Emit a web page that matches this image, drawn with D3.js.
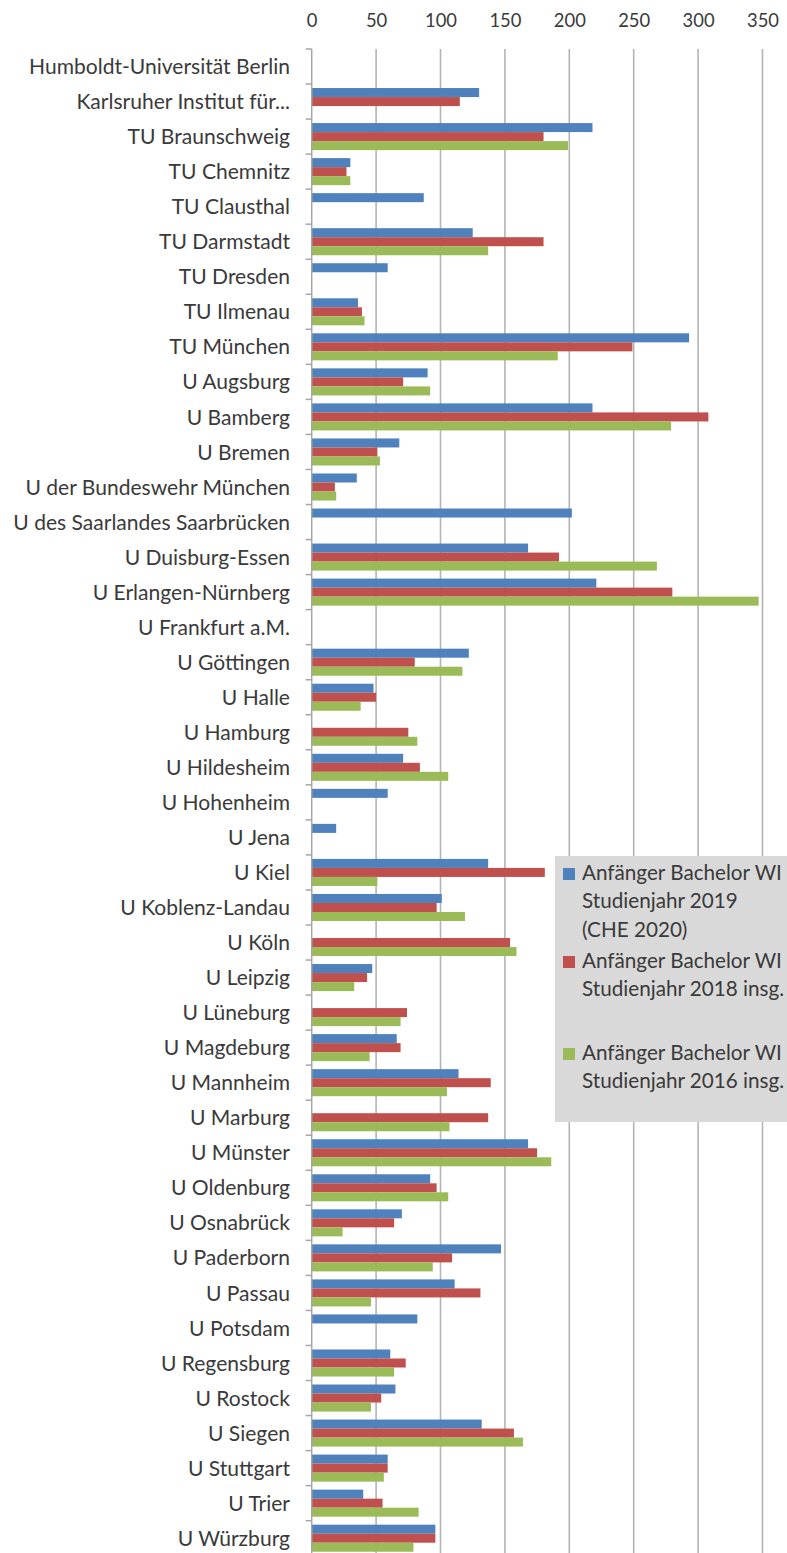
<!DOCTYPE html>
<html>
<head>
<meta charset="utf-8">
<script src="https://cdn.jsdelivr.net/npm/d3@7"></script>
<style>
  html, body { margin: 0; padding: 0; background: #fff; }
  svg { display: block; }
</style>
</head>
<body>
<svg id="chart" width="787" height="1553"></svg>
<script>
const categories = [
  "Humboldt-Universität Berlin", "Karlsruher Institut für...", "TU Braunschweig", "TU Chemnitz",
  "TU Clausthal", "TU Darmstadt", "TU Dresden", "TU Ilmenau", "TU München", "U Augsburg",
  "U Bamberg", "U Bremen", "U der Bundeswehr München", "U des Saarlandes Saarbrücken",
  "U Duisburg-Essen", "U Erlangen-Nürnberg", "U Frankfurt a.M.", "U Göttingen", "U Halle",
  "U Hamburg", "U Hildesheim", "U Hohenheim", "U Jena", "U Kiel", "U Koblenz-Landau", "U Köln",
  "U Leipzig", "U Lüneburg", "U Magdeburg", "U Mannheim", "U Marburg", "U Münster",
  "U Oldenburg", "U Osnabrück", "U Paderborn", "U Passau", "U Potsdam", "U Regensburg",
  "U Rostock", "U Siegen", "U Stuttgart", "U Trier", "U Würzburg"
];
const series2019 = [null, 130, 218, 30, 87, 125, 59, 36, 293, 90, 218, 68, 35, 202, 168, 221, null, 122, 48,
  null, 71, 59, 19, 137, 101, null, 47, null, 66, 114, null, 168, 92, 70, 147, 111, 82, 61, 65, 132, 59, 40, 96];
const series2018 = [null, 115, 180, 27, null, 180, null, 39, 249, 71, 308, 51, 18, null, 192, 280, null, 80, 50,
  75, 84, null, null, 181, 97, 154, 43, 74, 69, 139, 137, 175, 97, 64, 109, 131, null, 73, 54, 157, 59, 55, 96];
const series2016 = [null, null, 199, 30, null, 137, null, 41, 191, 92, 279, 53, 19, null, 268, 347, null, 117, 38,
  82, 106, null, null, 51, 119, 159, 33, 69, 45, 105, 107, 186, 106, 24, 94, 46, null, 64, 46, 164, 56, 83, 79];
const seriesNames = [
  ["Anfänger Bachelor WI", "Studienjahr 2019", "(CHE 2020)"],
  ["Anfänger Bachelor WI", "Studienjahr 2018 insg."],
  ["Anfänger Bachelor WI", "Studienjahr 2016 insg."]
];
const seriesColors = ["#4F81BD", "#C0504D", "#9BBB59"];
const xTicks = [0, 50, 100, 150, 200, 250, 300, 350];

const allSeries = [series2019, series2018, series2016];
const svg = d3.select("#chart");
const FONT = "Lato, 'Open Sans', sans-serif";
const textColor = "#3a3a3a";

// fit font size so the longest label matches the reference width
function fitSize(text, targetW) {
  const t = svg.append("text").attr("font-family", FONT).attr("font-size", 20).text(text);
  const w = t.node().getComputedTextLength();
  t.remove();
  return 20 * targetW / w;
}
const labelSize = fitSize("U des Saarlandes Saarbrücken", 277);
const tickSize = fitSize("350", 32);
const legendSize = fitSize("Anfänger Bachelor WI", 200);

const x = d3.scaleLinear().domain([0, 350]).range([311.7, 762.5]);
const y = d3.scaleBand().domain(categories).range([49, 49 + 35.04 * categories.length])
  .paddingInner(0.228).paddingOuter(0.114);
const yOuter = d3.scaleBand().domain(categories).range([49, 49 + 35.04 * categories.length]);
const inner = d3.scaleBand().domain([0, 1, 2]).range([0, y.bandwidth()]);

// gridlines
svg.append("g").selectAll("line").data(xTicks.filter(d => d > 0)).join("line")
  .attr("x1", d => x(d)).attr("x2", d => x(d))
  .attr("y1", 49).attr("y2", 1553)
  .attr("stroke", "#b4b4b4").attr("stroke-width", 1.6);

// top axis tick labels
const xAxis = d3.axisTop(x).tickValues(xTicks).tickSize(0).tickPadding(0);
const gx = svg.append("g").attr("transform", "translate(0,26.5)").call(xAxis);
gx.select(".domain").remove();
gx.selectAll("text").attr("font-family", FONT).attr("font-size", tickSize)
  .attr("fill", textColor).attr("dy", 0);

// bars
allSeries.forEach((vals, si) => {
  svg.append("g").selectAll("rect")
    .data(categories.map((c, i) => ({ c, v: vals[i] })).filter(d => d.v != null))
    .join("rect")
    .attr("x", x(0))
    .attr("y", d => y(d.c) + inner(si))
    .attr("width", d => x(d.v) - x(0))
    .attr("height", inner.bandwidth())
    .attr("fill", seriesColors[si]);
});

// y axis
const yAxisLine = svg.append("g");
yAxisLine.append("line").attr("x1", x(0)).attr("x2", x(0)).attr("y1", 49).attr("y2", 1553)
  .attr("stroke", "#a6a6a6").attr("stroke-width", 1.5);
yAxisLine.selectAll("line.tk").data(categories).join("line").attr("class", "tk")
  .attr("x1", x(0) - 6).attr("x2", x(0))
  .attr("y1", d => yOuter(d)).attr("y2", d => yOuter(d))
  .attr("stroke", "#a6a6a6").attr("stroke-width", 1.5);

// category labels
svg.append("g").selectAll("text").data(categories).join("text")
  .attr("x", 290)
  .attr("y", d => yOuter(d) + yOuter.bandwidth() / 2)
  .attr("dy", "0.36em")
  .attr("text-anchor", "end")
  .attr("font-family", FONT).attr("font-size", labelSize)
  .attr("fill", textColor)
  .text(d => d);

// legend
const lg = svg.append("g");
lg.append("rect").attr("x", 555).attr("y", 856).attr("width", 240).attr("height", 266).attr("fill", "#d9d9d9");
const legendStarts = [880, 968, 1060];
seriesNames.forEach((lines, si) => {
  const by = legendStarts[si];
  lg.append("rect").attr("x", 563).attr("y", by - 12).attr("width", 12).attr("height", 12)
    .attr("fill", seriesColors[si]);
  lines.forEach((ln, li) => {
    lg.append("text").attr("x", 582).attr("y", by + li * 28.3)
      .attr("font-family", FONT).attr("font-size", legendSize).attr("fill", textColor)
      .text(ln);
  });
});
</script>
</body>
</html>
